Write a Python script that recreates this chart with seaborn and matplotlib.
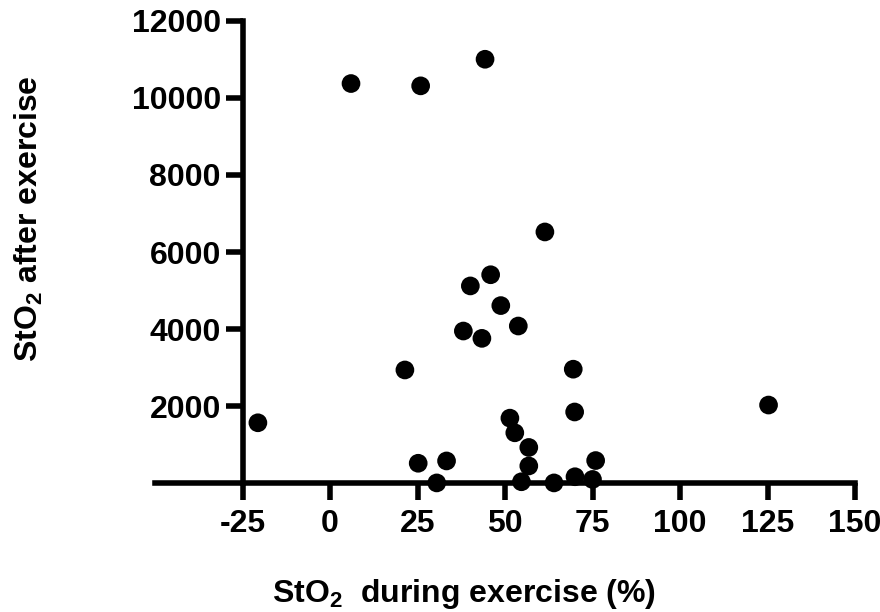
import matplotlib
matplotlib.use("Agg")
import matplotlib.pyplot as plt
import seaborn as sns
import pandas as pd

# Data
sto2_during = [6.0, 25.9, 44.3, 61.4, 45.9, 40.1, 48.8, 53.8, 38.1, 43.4,
               21.4, 69.5, -20.6, 69.9, 125.3, 51.4, 52.8, 56.8, 56.8, 54.7,
               25.2, 33.3, 30.5, 64.0, 70.0, 75.9, 75.0]
sto2_after = [10370, 10310, 11000, 6520, 5410, 5120, 4610, 4080, 3950, 3760,
              2940, 2960, 1570, 1850, 2030, 1690, 1310, 930, 450, 40,
              520, 580, 10, 10, 170, 590, 100]
x_ticks = [-25, 0, 25, 50, 75, 100, 125, 150]
y_ticks = [2000, 4000, 6000, 8000, 10000, 12000]

df = pd.DataFrame({"during": sto2_during, "after": sto2_after})

sns.set_style("ticks")
plt.rcParams["font.family"] = ["Liberation Sans", "DejaVu Sans"]
plt.rcParams["font.weight"] = "bold"
plt.rcParams["mathtext.default"] = "regular"
plt.rcParams["text.color"] = "black"
plt.rcParams["axes.labelcolor"] = "black"
plt.rcParams["xtick.color"] = "black"
plt.rcParams["ytick.color"] = "black"

fig = plt.figure(figsize=(8.8, 6.12), dpi=100)
ax = fig.add_axes([155 / 880, 1 - 483.3 / 612, 700 / 880, 462.6 / 612])

sns.scatterplot(data=df, x="during", y="after", color="black", s=181,
                edgecolor="none", linewidth=0, ax=ax, clip_on=False,
                zorder=3, legend=False)

ax.set_xlim(-50, 150)
ax.set_ylim(0, 12000)
sns.despine(ax=ax)
ax.spines["left"].set_position(("data", -25))
for s in ["left", "bottom"]:
    ax.spines[s].set_linewidth(4)
    ax.spines[s].set_color("black")

ax.set_xticks(x_ticks)
ax.set_xticklabels([str(t) for t in x_ticks])
ax.set_yticks(y_ticks)
ax.set_yticklabels([str(t) for t in y_ticks])
ax.tick_params(width=4, length=12.5, labelsize=23, color="black",
               labelcolor="black")
ax.tick_params(axis="x", pad=6)
ax.tick_params(axis="y", pad=3)

ax.set_xlabel(r"StO$_2$  during exercise (%)", fontsize=23, fontweight="bold",
              color="black")
ax.xaxis.label.set_va("baseline")
ax.xaxis.set_label_coords((464 - 155) / 700, (483.3 - 601.7) / 462.6)

ax.set_ylabel(r"StO$_2$ after exercise", fontsize=23, fontweight="bold",
              color="black")
ax.yaxis.label.set_va("baseline")
ax.yaxis.set_label_coords((38 - 155) / 700, (483.3 - 219) / 462.6)

fig.savefig("out.png", dpi=100, facecolor="white")
